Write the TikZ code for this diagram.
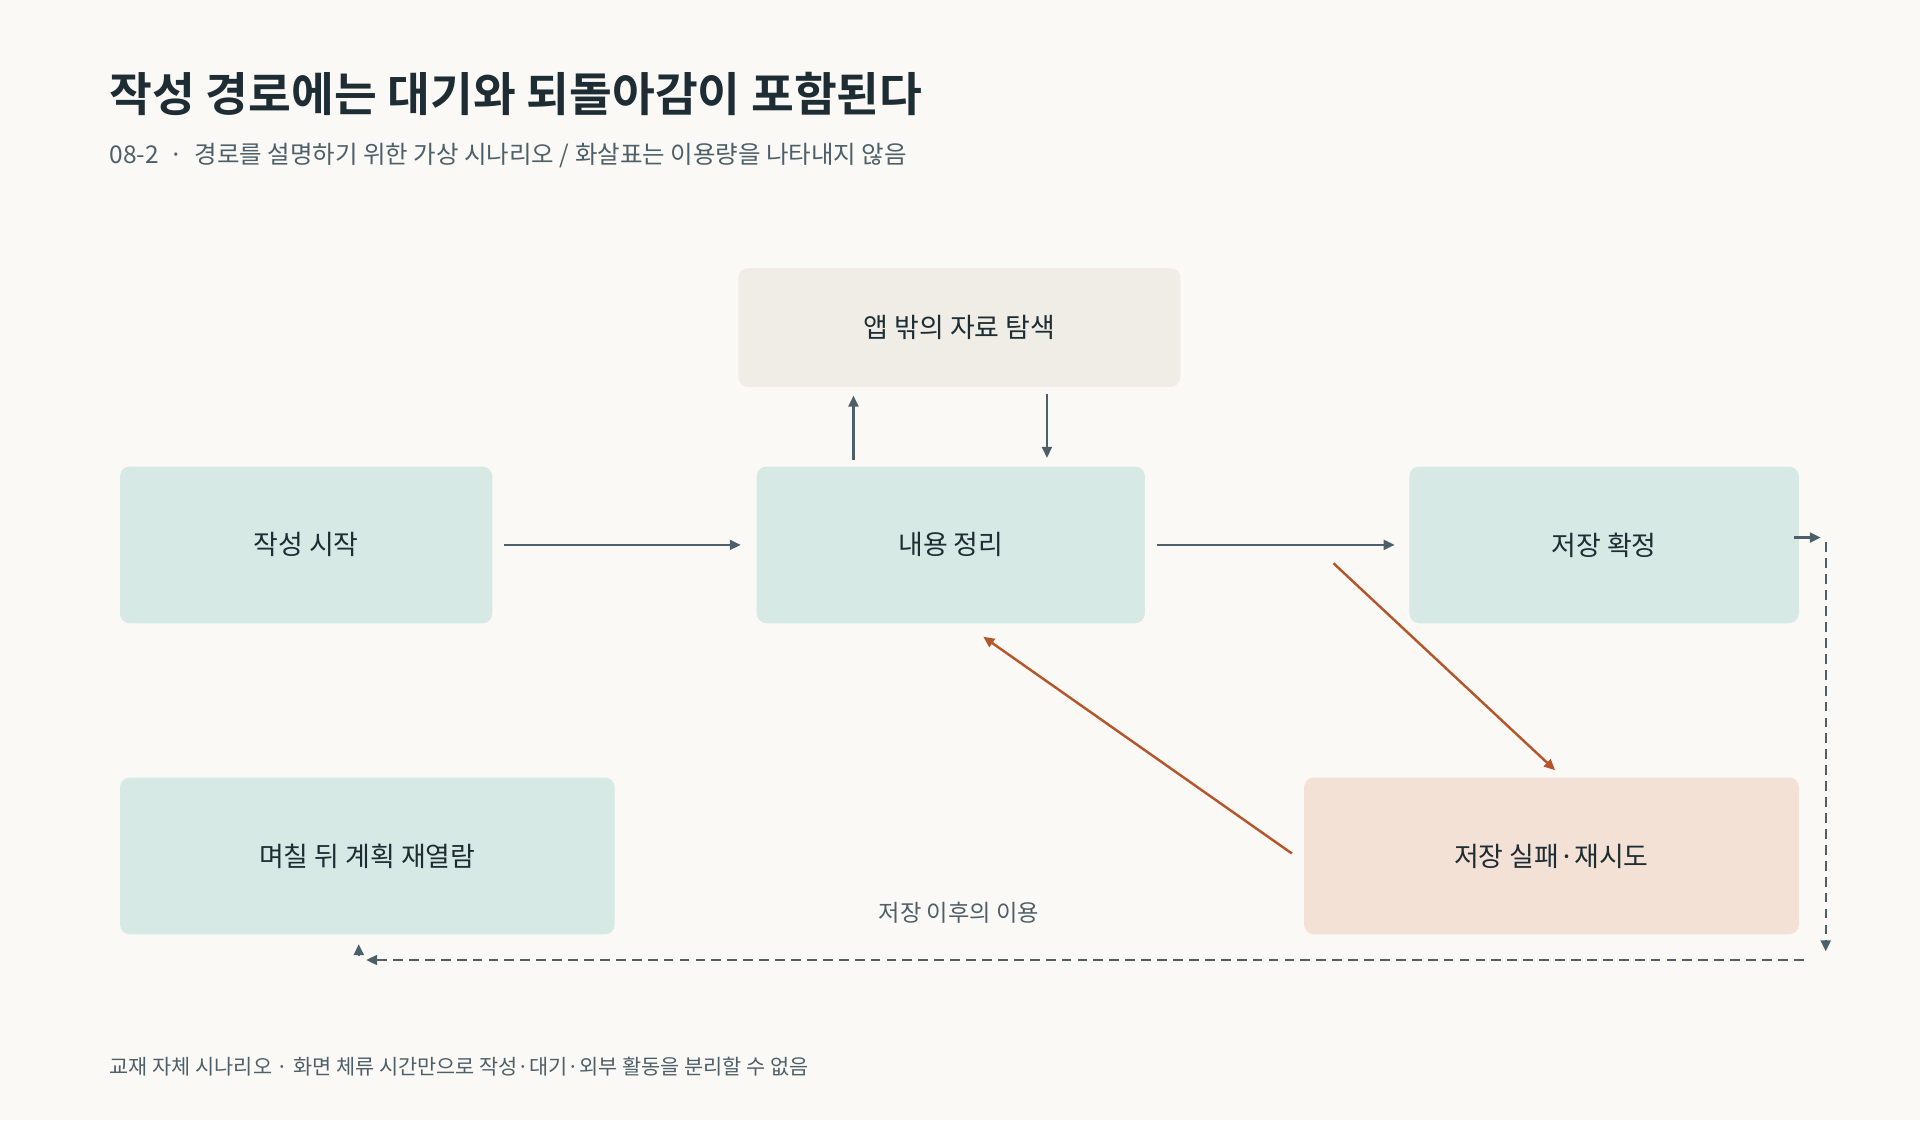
\documentclass[tikz,border=0pt]{standalone}
\usepackage{fontspec}
\setmainfont{Noto Sans CJK KR}
\newfontfamily\boldf{Noto Sans CJK KR Bold}
\usetikzlibrary{arrows.meta}
\definecolor{bg}{HTML}{FBF9F6}
\definecolor{teal}{HTML}{D6E9E4}
\definecolor{sand}{HTML}{F0EDE7}
\definecolor{peach}{HTML}{F4E1D6}
\definecolor{ink}{HTML}{1E2D33}
\definecolor{gray}{HTML}{4D5F68}
\definecolor{rust}{HTML}{B5552A}
\begin{document}
\begin{tikzpicture}[x=1pt,y=-1pt,
 box/.style={rounded corners=8pt,inner sep=0pt,font=\fontsize{22}{26}\selectfont,text=ink},
 arr/.style={-{Triangle[length=9pt,width=8pt]},line width=2pt,draw=gray},
 rarr/.style={-{Triangle[length=9pt,width=8pt]},line width=2pt,draw=rust},
 dashln/.style={line width=2pt,draw=gray,dash pattern=on 8pt off 5pt,-{Triangle[length=9pt,width=8pt]}}]
\fill[bg] (0,0) rectangle (1568,915);
\useasboundingbox (0,0) rectangle (1568,915);
\node[anchor=west,text=ink,font=\boldf\fontsize{38}{44}\selectfont] (title) at (86,77) {작성 경로에는 대기와 되돌아감이 포함된다};
\node[anchor=west,text=gray,font=\fontsize{20}{24}\selectfont] (sub) at (86,127) {08-2 \ \textperiodcentered\ \ 경로를 설명하기 위한 가상 시나리오 / 화살표는 이용량을 나타내지 않음};
\node[anchor=west,text=gray,font=\fontsize{17}{20}\selectfont] (foot) at (86,871) {교재 자체 시나리오 · 화면 체류 시간만으로 작성·대기·외부 활동을 분리할 수 없음};

\node[box,fill=sand,minimum width=361,minimum height=97] (ext) at (783.5,267.5) {앱 밖의 자료 탐색};
\node[box,fill=teal,minimum width=304,minimum height=128] (start) at (250,445) {작성 시작};
\node[box,fill=teal,minimum width=317,minimum height=128] (org) at (776.5,445) {내용 정리};
\node[box,fill=teal,minimum width=318,minimum height=128] (save) at (1310,445) {저장 확정};
\node[box,fill=teal,minimum width=404,minimum height=128] (days) at (300,699) {며칠 뒤 계획 재열람};
\node[box,fill=peach,minimum width=404,minimum height=128] (fail) at (1267,699) {저장 실패·재시도};
\node[text=gray,font=\fontsize{19}{22}\selectfont] (lbl) at (783,745) {저장 이후의 이용};

\coordinate (a1) at (412,445); \coordinate (a2) at (605,445);
\draw[arr] (a1) -- (a2);
\coordinate (b1) at (945,445); \coordinate (b2) at (1139,445);
\draw[arr] (b1) -- (b2);
\coordinate (u1) at (697,376); \coordinate (u2) at (697,323);
\draw[arr] (u1) -- (u2);
\coordinate (d1) at (855,322); \coordinate (d2) at (855,374);
\draw[arr] (d1) -- (d2);
\coordinate (r1) at (1089,460); \coordinate (r2) at (1270,629);
\draw[rarr] (r1) -- (r2);
\coordinate (s1) at (1055,697); \coordinate (s2) at (803,520);
\draw[rarr] (s1) -- (s2);
\coordinate (e1) at (1465,439); \coordinate (e2) at (1487,439);
\draw[arr] (e1) -- (e2);
\coordinate (v1) at (1491,443); \coordinate (v2) at (1491,777);
\draw[dashln] (v1) -- (v2);
\coordinate (h1) at (1473,784); \coordinate (h2) at (299,784);
\draw[dashln] (h1) -- (h2);
\coordinate (t1) at (293,781); \coordinate (t2) at (293,771);
\draw[arr] (t1) -- (t2);
\end{tikzpicture}
\end{document}
